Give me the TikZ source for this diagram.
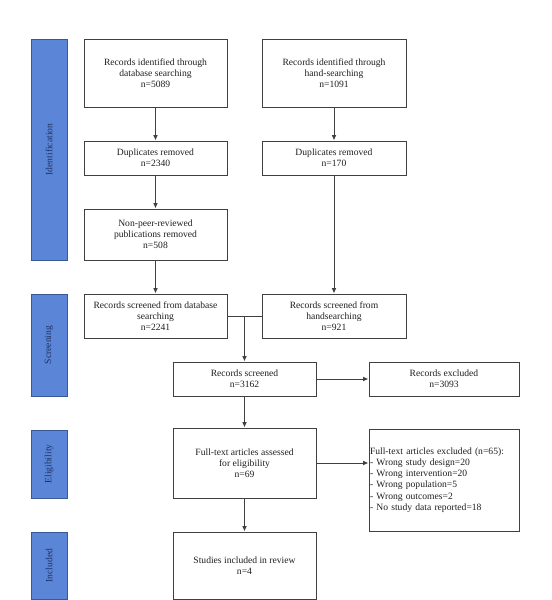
\documentclass[tikz,border=0pt]{standalone}
\usepackage{fontspec}
\setmainfont{Liberation Serif}
\usetikzlibrary{arrows.meta}
\definecolor{linec}{HTML}{404040}
\definecolor{textc}{HTML}{202020}
\definecolor{barfill}{HTML}{5B86D8}
\definecolor{barborder}{HTML}{3A5896}
\definecolor{bartextc}{HTML}{1E3262}
\newcommand\mybox[7][]{\node[bx,minimum width={(#5-#3)*0.75pt},minimum height={(#6-#4)*0.75pt},#1] (#2) at ({(#3+#5)/2},{(#4+#6)/2}) {#7};}
\newcommand\mybar[6]{\node[bar,minimum width={(#4-#2)*0.75pt},minimum height={(#5-#3)*0.75pt}] (#1) at ({(#2+#4)/2},{(#3+#5)/2}) {};
\node[bartext] (#1t) at (#1.center) {#6};}
\begin{document}
\begin{tikzpicture}[x=0.75pt,y=-0.75pt,
  bx/.style={draw=linec, line width=0.75pt, fill=white, align=center, inner sep=1pt, font=\fontsize{7.2}{8.4}\selectfont, text=textc},
  bar/.style={draw=barborder, fill=barfill, line width=0.75pt, inner sep=0pt},
  bartext/.style={rotate=90, font=\fontsize{7.2}{8.4}\selectfont, text=bartextc},
  arr/.style={draw=linec, line width=0.75pt, -{Latex[length=4pt,width=3.5pt]}},
  ln/.style={draw=linec, line width=0.75pt}]
\useasboundingbox (0,0) rectangle (551,600);
% phase bars
\mybar{bid}{31}{39}{67}{260}{Identification}
\mybar{bsc}{31}{294}{67}{396}{Screening}
\mybar{bel}{31}{430}{67}{498}{Eligibility}
\mybar{bin}{31}{532}{67}{599}{Included}
% boxes
\mybox{b1}{84}{39}{227}{107}{Records identified through\\database searching\\n=5089}
\mybox{b2}{262}{39}{406}{107}{Records identified through\\hand-searching\\n=1091}
\mybox{d1}{84}{141}{227}{175}{Duplicates removed\\n=2340}
\mybox{d2}{262}{141}{406}{175}{Duplicates removed\\n=170}
\mybox{np}{84}{209}{227}{260}{Non-peer-reviewed\\publications removed\\n=508}
\mybox{s1}{84}{294}{227}{338}{Records screened from database\\searching\\n=2241}
\mybox{s2}{262}{294}{406}{338}{Records screened from\\handsearching\\n=921}
\mybox{rs}{173}{362}{316}{396}{Records screened\\n=3162}
\mybox{re}{369}{362}{519}{396}{Records excluded\\n=3093}
\mybox{ft}{173}{428}{316}{498}{Full-text articles assessed\\for eligibility\\n=69}
\mybox[align=left,inner sep=0.75pt,text width={148*0.75pt}]{fe}{369}{429}{519}{531}{Full-text articles excluded (n=65):\\- Wrong study design=20\\- Wrong intervention=20\\- Wrong population=5\\- Wrong outcomes=2\\- No study data reported=18}
\mybox{si}{173}{532}{316}{599}{Studies included in review\\n=4}
% connectors
\draw[arr] (b1) -- (d1);
\draw[arr] (d1) -- (np);
\draw[arr] (np) -- (s1);
\draw[arr] (b2) -- (d2);
\draw[arr] (d2) -- (s2);
\coordinate (m) at (rs.north |- s1.east);
\draw[ln] (s1.east) -- (s2.west);
\draw[arr] (m) -- (rs);
\draw[arr] (rs) -- (re);
\draw[arr] (rs) -- (ft);
\draw[arr] (ft) -- (ft -| fe.west);
\draw[arr] (ft) -- (si);
\end{tikzpicture}
\end{document}
